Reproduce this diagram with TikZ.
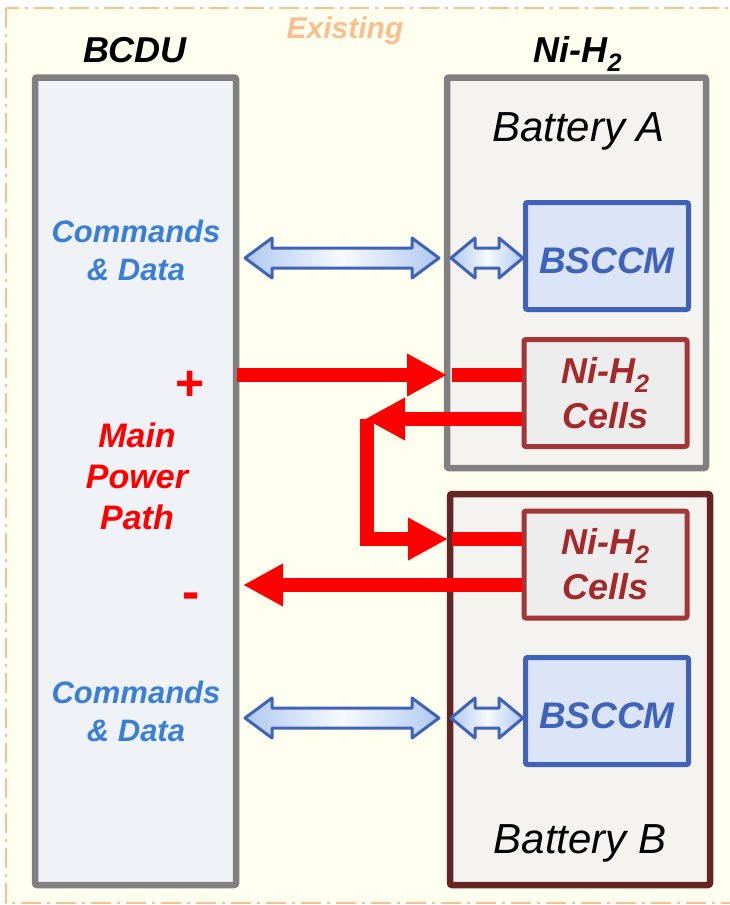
\documentclass[tikz,border=0pt]{standalone}
\usepackage{fontspec}
\setmainfont{Liberation Sans}
\usepackage{xcolor}
\usepackage{tikz}
\usetikzlibrary{arrows.meta}
\usetikzlibrary{calc}

\definecolor{ivory}{HTML}{FFFFF0}
\definecolor{existorange}{HTML}{F9BF8F}
\definecolor{boxgray}{HTML}{808080}
\definecolor{bcdufill}{HTML}{EFF2F6}
\definecolor{battfill}{HTML}{F4F3EF}
\definecolor{battbred}{HTML}{662525}
\definecolor{bsccmblue}{HTML}{3E63B8}
\definecolor{bsccmfill}{HTML}{DCE5F7}
\definecolor{cellred}{HTML}{A33636}
\definecolor{celltext}{HTML}{A32A2A}
\definecolor{cellfill}{HTML}{EDEDED}
\definecolor{cmdblue}{HTML}{3A7FD5}
\definecolor{arrowlight}{HTML}{B0C9F2}

\newcommand{\dataarrow}[3]{% ends #1 and #2, head length #3
  \path[dataarrow] let \p1=(#1), \p2=(#2) in
    (\x1,\y1) -- (\x1+#3,\y1+20pt) -- (\x1+#3,\y1+10pt) -- (\x2-#3,\y1+10pt)
    -- (\x2-#3,\y1+20pt) -- (\x2,\y1) -- (\x2-#3,\y1-20pt) -- (\x2-#3,\y1-10pt)
    -- (\x1+#3,\y1-10pt) -- (\x1+#3,\y1-20pt) -- cycle;}

\begin{document}
\begin{tikzpicture}[x=1pt,y=-1pt]
\tikzset{unitbox/.style={draw=boxgray, line width=6.5pt, rounded corners=2pt, inner sep=0pt}}
\tikzset{innerbox/.style={line width=5pt, rounded corners=2pt, inner sep=0pt,
    minimum width=163pt, minimum height=107pt}}
\tikzset{bsccmbox/.style={innerbox, draw=bsccmblue, fill=bsccmfill, text=bsccmblue,
    text height=34pt, text depth=0pt, font=\fontsize{37}{44}\selectfont\bfseries\itshape}}
\tikzset{cellbox/.style={innerbox, draw=cellred, fill=cellfill, text=celltext, align=center,
    font=\fontsize{36}{45}\selectfont\bfseries\itshape}}
\tikzset{unitlabel/.style={anchor=base, font=\fontsize{36}{40}\selectfont\bfseries\itshape}}
\tikzset{cmdtext/.style={text=cmdblue, align=center, font=\fontsize{31}{38}\selectfont\bfseries\itshape}}
\tikzset{powerline/.style={draw=red, line width=14pt}}
\tikzset{powertip/.style={-{Triangle[length=40pt,width=40pt]}}}
\tikzset{dataarrow/.style={draw=bsccmblue, line width=3pt, line join=round,
    left color=arrowlight, right color=arrowlight, middle color=white!90!arrowlight}}

   % frame
   \useasboundingbox (0,0) rectangle (730,905);
   \clip (0,0) rectangle (730,905);
   \fill[white] (0,0) rectangle (730,905);
   \draw[existorange, line width=2.5pt, fill=ivory,
     dash pattern=on 20pt off 6pt on 3pt off 6pt] (6,8) rectangle (745,903);
   \node[anchor=base, text=existorange, font=\fontsize{30}{34}\selectfont\bfseries\itshape]
     (existing) at (345,38) {Existing};

   % units
   \node[unitbox, fill=bcdufill, minimum width=201pt, minimum height=807.5pt]
     (bcdu) at (135.5,481.25) {};
   \node[unitbox, fill=battfill, minimum width=259pt, minimum height=390.5pt]
     (battA) at (576.5,272.75) {};
   \node[unitbox, draw=battbred, fill=battfill, minimum width=260pt, minimum height=391pt]
     (battB) at (580,689.5) {};
   \node[unitlabel] (bcdulabel) at (135,62) {BCDU};
   \node[unitlabel] (nihlabel) at (578,62) {Ni-H\textsubscript{2}};
   \node[anchor=base, font=\fontsize{42}{46}\selectfont\itshape] (labA) at (578.5,141) {Battery A};
   \node[anchor=base, font=\fontsize{42}{46}\selectfont\itshape] (labB) at (580,853) {Battery B};

   \node[bsccmbox] (bsA) at (607,256) {BSCCM};
   \node[cellbox] (cellsA) at (605.5,393) {Ni-H\textsubscript{2}\\Cells};
   \node[cellbox] (cellsB) at (605.5,564.5) {Ni-H\textsubscript{2}\\Cells};
   \node[bsccmbox] (bsB) at (607,711) {BSCCM};

   \node[cmdtext] (cmdA) at (136,250) {Commands\\\& Data};
   \node[cmdtext] (cmdB) at (136,711) {Commands\\\& Data};
   \node[text=red, align=center, font=\fontsize{34}{41}\selectfont\bfseries\itshape]
     (mpp) at (137,476) {Main\\Power\\Path};
   \node[text=red, font=\fontsize{50}{50}\selectfont\bfseries] (plus) at (190,386) {+};
   \node[text=red, font=\fontsize{52}{52}\selectfont\bfseries] (minus) at (191,601) {-};

   % commands and data
   \coordinate (dA1) at (245,258);
   \coordinate (dA2) at (439,258);
   \coordinate (dA3) at (451,258);
   \coordinate (dB1) at (245,718);
   \coordinate (dB2) at (439,718);
   \coordinate (dB3) at (451,718);
   \dataarrow{dA1}{dA2}{27pt}
   \dataarrow{dA3}{bsA.west}{24pt}
   \dataarrow{dB1}{dB2}{27pt}
   \dataarrow{dB3}{bsB.west}{24pt}

   % main power path
   \coordinate (pp) at (237,375);
   \coordinate (ppA) at (447,375);
   \coordinate (ppin) at (452,375);
   \coordinate (turn) at (367,419);
   \coordinate (ppB) at (448,539);
   \coordinate (ppBin) at (452,539);
   \coordinate (pm) at (243,585);
   \draw[powerline, powertip] (pp) -- (ppA);
   \draw[powerline] (ppin) -- (cellsA.west |- ppin);
   \draw[powerline, powertip] (cellsA.west |- turn) -- ([xshift=-2pt]turn);
   \draw[powerline, powertip] (turn) |- (ppB);
   \draw[powerline] (ppBin) -- (cellsB.west |- ppBin);
   \draw[powerline, powertip] (cellsB.west |- pm) -- (pm);
\end{tikzpicture}
\end{document}
